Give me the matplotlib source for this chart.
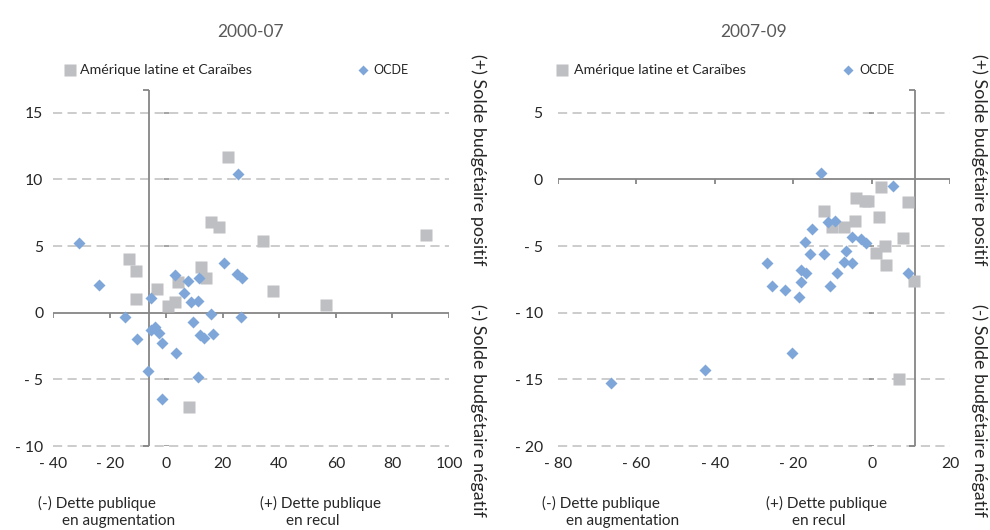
import matplotlib
matplotlib.use("Agg")
import matplotlib.pyplot as plt

plt.rcParams['font.family'] = ['Lato', 'DejaVu Sans']

# 2000-07
lac_00_x = [-13.1, -10.6, -10.6, -3.2, 0.7, 3.2, 4.2, 12.4, 14.1, 8.2, 15.9, 18.7, 21.9, 34.3, 37.8, 56.5, 92.0]
lac_00_y = [4.0, 3.1, 1.0, 1.8, 0.5, 0.8, 2.3, 3.4, 2.6, -7.1, 6.8, 6.4, 11.7, 5.4, 1.6, 0.6, 5.8]
oecd_00_x = [-30.7, -23.7, -14.5, -10.2, -5.3, -6.4, -5.3, -3.9, -2.5, -1.4, -1.3, 3.2, 3.5, 6.4, 7.8,
             8.8, 9.5, 11.3, 11.7, 11.4, 12.0, 13.4, 15.9, 16.6, 20.5, 25.1, 26.9, 26.5, 25.4]
oecd_00_y = [5.2, 2.1, -0.3, -2.0, 1.1, -4.4, -1.3, -1.1, -1.5, -2.3, -6.5, 2.8, -3.0, 1.5, 2.4,
             0.8, -0.7, 0.9, 2.6, -4.8, -1.7, -1.9, -0.1, -1.6, 3.7, 2.9, 2.6, -0.3, 10.4]

# 2007-09
lac_07_x = [2.3, -4.1, -1.8, -0.8, 9.4, -12.2, 2.0, -4.3, -10.2, -7.1, 7.9, 3.3, 1.0, 3.8, 10.7, 6.9]
lac_07_y = [-0.6, -1.4, -1.6, -1.6, -1.7, -2.4, -2.8, -3.1, -3.6, -3.6, -4.4, -5.0, -5.5, -6.4, -7.6, -15.0]
oecd_07_x = [-12.8, 5.4, -9.4, -11.2, -15.1, -16.9, -5.1, -2.8, -1.5, -15.8, -12.2, -6.6, -7.1, -5.1,
             -17.9, -16.8, -8.7, 9.4, -18.1, -10.5, -18.6, -26.8, -25.3, -22.2, -20.2, -66.6, -42.6]
oecd_07_y = [0.5, -0.5, -3.1, -3.2, -3.7, -4.7, -4.3, -4.5, -4.8, -5.6, -5.6, -5.4, -6.2, -6.3,
             -6.8, -7.0, -7.0, -7.0, -7.7, -8.0, -8.8, -6.3, -8.0, -8.3, -13.0, -15.3, -14.3]

xticks_00 = [-40, -20, 0, 20, 40, 60, 80, 100]
yticks_00 = [-10, -5, 0, 5, 10, 15]
xticks_07 = [-80, -60, -40, -20, 0, 20]
yticks_07 = [-20, -15, -10, -5, 0, 5]

GREY = '#BEBFC3'
BLUE = '#7EA6D8'
AXIS = '#868686'
GRID = '#BFBFBF'
TXT = '#262626'


def fmt(v):
    return "- %d" % abs(v) if v < 0 else "%d" % v


def panel(ax, lx, ly, ox, oy, xticks, yticks, ytop, vx, title, ypad, leg_pos):
    ax.set_xlim(xticks[0], xticks[-1])
    ax.set_ylim(yticks[0], ytop)
    for s in ax.spines.values():
        s.set_visible(False)

    # dashed grid, solid zero line
    for g in yticks:
        if g != 0:
            ax.axhline(g, color=GRID, lw=1.1, dashes=(6, 3.5), clip_on=False, zorder=1)
    xs = (xticks[-1] - xticks[0]) / 396.0
    ys = (ytop - yticks[0]) / 356.0
    ax.hlines([g for g in yticks if g != 0], -2.5 * xs, 2.5 * xs, color='#8c8c8c', lw=1.1, zorder=1)
    ax.axhline(0, color=AXIS, lw=1.3, zorder=2)
    ax.vlines(xticks, -5 * ys, 0, color=AXIS, lw=1.3, zorder=2)
    ax.axvline(vx, color=AXIS, lw=1.3, zorder=2)
    ax.hlines([yticks[0], ytop], vx - 6 * xs, vx, color=AXIS, lw=1.3, clip_on=False, zorder=2)

    ax.plot(lx, ly, 's', color=GREY, ms=9.3, mec='none', zorder=3, clip_on=False)
    ax.plot(ox, oy, 'D', color=BLUE, ms=6.2, mec='none', zorder=4, clip_on=False)

    ax.set_xticks(xticks)
    ax.set_xticklabels([fmt(v) for v in xticks])
    ax.set_yticks(yticks)
    ax.set_yticklabels([fmt(v) for v in yticks])
    ax.tick_params(axis='x', length=0, pad=8, labelsize=11.3, labelcolor=TXT)
    ax.tick_params(axis='y', length=0, pad=ypad, labelsize=11.3, labelcolor=TXT)

    ax.set_title(title, fontsize=12.5, color='#595959', pad=38)

    # legend drawn by hand
    sq, st, dm, dt = leg_pos
    ax.plot([sq], [1.056], 's', color=GREY, ms=8, mec='none', transform=ax.transAxes, clip_on=False)
    ax.text(st, 1.056, 'Amérique latine et Caraïbes', transform=ax.transAxes, va='center',
            fontsize=10.2, color=TXT)
    ax.plot([dm], [1.056], 'D', color=BLUE, ms=5.5, mec='none', transform=ax.transAxes, clip_on=False)
    ax.text(dt, 1.056, 'OCDE', transform=ax.transAxes, va='center', fontsize=9, color=TXT)


fig = plt.figure(figsize=(9.9, 5.3), dpi=100)
ax1 = fig.add_axes([53 / 990, 84 / 530, 396 / 990, 356 / 530])
ax2 = fig.add_axes([558 / 990, 84 / 530, 392 / 990, 356 / 530])

panel(ax1, lac_00_x, lac_00_y, oecd_00_x, oecd_00_y, xticks_00, yticks_00, 16.7, -6.0, '2000-07', 7,
      (0.043, 0.068, 0.783, 0.810))
panel(ax2, lac_07_x, lac_07_y, oecd_07_x, oecd_07_y, xticks_07, yticks_07, 6.7, 11.0, '2007-09', 11,
      (0.010, 0.041, 0.740, 0.768))

# side labels
for x in (478, 979):
    fig.text(x / 990, 1 - 160 / 530, '(+) Solde budgétaire positif', rotation=270, ha='center',
             va='center', fontsize=12.9, color=TXT)
    fig.text(x / 990, 1 - 410 / 530, '(-) Solde budgétaire négatif', rotation=270, ha='center',
             va='center', fontsize=12.9, color=TXT)

# bottom labels
for x0, x1 in ((38, 260), (542, 766)):
    fig.text(x0 / 990, 1 - 503 / 530, '(-) Dette publique', va='center', fontsize=11, color=TXT)
    fig.text((x0 + 24) / 990, 1 - 521 / 530, 'en augmentation', va='center', fontsize=11, color=TXT)
    fig.text(x1 / 990, 1 - 503 / 530, '(+) Dette publique', va='center', fontsize=11, color=TXT)
    fig.text((x1 + 26) / 990, 1 - 521 / 530, 'en recul', va='center', fontsize=11, color=TXT)

fig.savefig('out.png', dpi=100)
